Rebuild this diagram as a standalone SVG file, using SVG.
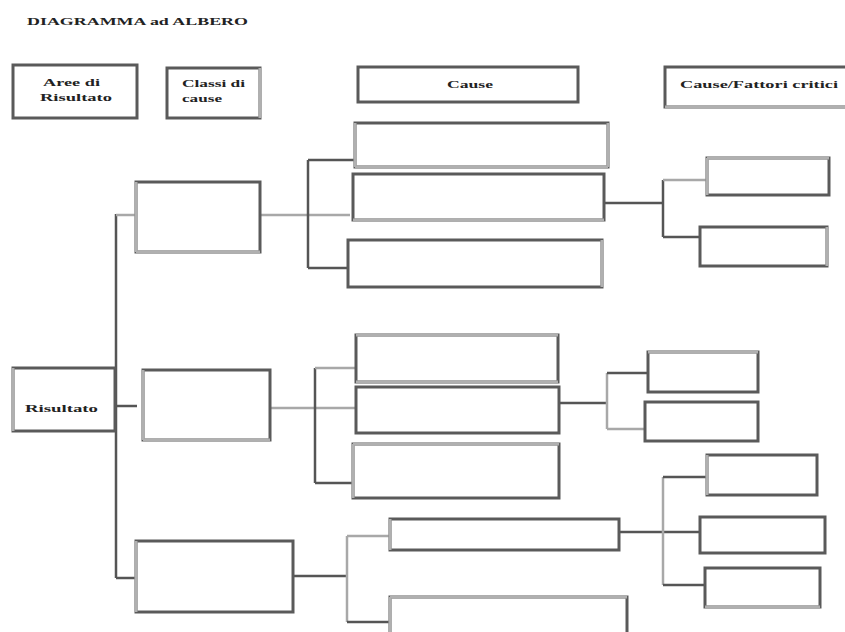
<svg xmlns="http://www.w3.org/2000/svg" width="845" height="632" viewBox="0 0 845 632">
<style>
.box{fill:#fff;stroke:#5a5a5a;stroke-width:3}
.lt{stroke:#b0b0b0;stroke-width:3;fill:none}
.ln{stroke:#555;stroke-width:2.5;fill:none}
.lg{stroke:#a8a8a8;stroke-width:2.5;fill:none}
.t{font-family:"Liberation Serif",serif;font-weight:bold;font-size:11px;fill:#222}
</style>
<rect width="845" height="632" fill="#fff"/>
<text class="t" x="27" y="25" font-size="13" textLength="221" lengthAdjust="spacingAndGlyphs">DIAGRAMMA ad ALBERO</text>

<g id="connectors">
  <path class="ln" d="M116 214V578"/>
  <path class="lg" d="M116 215H136"/>
  <path class="ln" d="M116 406H137"/>
  <path class="ln" d="M116 578H136"/>
  <path class="lg" d="M260 215H350"/>
  <path class="ln" d="M308 160V268"/>
  <path class="ln" d="M308 160H355"/>
  <path class="ln" d="M308 268H348"/>
  <path class="ln" d="M605 203H663"/>
  <path class="ln" d="M663 180V237"/>
  <path class="lg" d="M663 180H707"/>
  <path class="ln" d="M663 237H700"/>
  <path class="lg" d="M270 408H356"/>
  <path class="ln" d="M315 368V483"/>
  <path class="lg" d="M315 368H356"/>
  <path class="ln" d="M315 483H353"/>
  <path class="ln" d="M559 403H607"/>
  <path class="lg" d="M607 373V429"/>
  <path class="ln" d="M607 373H648"/>
  <path class="lg" d="M607 429H645"/>
  <path class="ln" d="M293 576H347"/>
  <path class="lg" d="M347 536V622"/>
  <path class="lg" d="M347 536H390"/>
  <path class="ln" d="M347 622H390"/>
  <path class="ln" d="M619 532H702"/>
  <path class="lg" d="M663 477V585"/>
  <path class="ln" d="M663 477H707"/>
  <path class="ln" d="M663 585H705"/>
</g>

<g id="h-aree"><rect class="box" x="13" y="65" width="124" height="53"/>
<text class="t" x="43" y="86" textLength="57" lengthAdjust="spacingAndGlyphs">Aree di</text>
<text class="t" x="40" y="101" textLength="72" lengthAdjust="spacingAndGlyphs">Risultato</text></g>
<g id="h-classi"><rect class="box" x="167" y="68" width="93" height="50"/><path class="lt" d="M260 68V118"/>
<text class="t" x="182" y="87" textLength="63" lengthAdjust="spacingAndGlyphs">Classi di</text>
<text class="t" x="182" y="102" textLength="40" lengthAdjust="spacingAndGlyphs">cause</text></g>
<g id="h-cause"><rect class="box" x="358" y="67" width="220" height="35"/>
<text class="t" x="447" y="88" textLength="46" lengthAdjust="spacingAndGlyphs">Cause</text></g>
<g id="h-fattori"><rect class="box" x="665" y="67" width="190" height="40"/><path class="lt" d="M665 107H845"/>
<text class="t" x="680" y="88" textLength="158" lengthAdjust="spacingAndGlyphs">Cause/Fattori critici</text></g>

<g id="risultato"><rect class="box" x="13" y="368" width="102" height="63"/><path class="lt" d="M13 368V431"/>
<text class="t" x="25" y="412" textLength="73" lengthAdjust="spacingAndGlyphs">Risultato</text></g>

<g id="a1"><rect class="box" x="136" y="182" width="124" height="70"/><path class="lt" d="M136 182V252M136 252H260"/></g>
<g id="c1"><rect class="box" x="355" y="123" width="253" height="44"/><path class="lt" d="M355 123V167M355 167H608M608 123V167"/></g>
<g id="c2"><rect class="box" x="353" y="174" width="251" height="46"/><path class="lt" d="M353 220H604"/></g>
<g id="c3"><rect class="box" x="348" y="240" width="254" height="47"/><path class="lt" d="M602 240V287"/></g>
<g id="f1"><rect class="box" x="707" y="158" width="122" height="37"/><path class="lt" d="M707 158H829M707 158V195"/></g>
<g id="f2"><rect class="box" x="700" y="227" width="127" height="39"/><path class="lt" d="M827 227V266"/></g>

<g id="b1"><rect class="box" x="143" y="370" width="127" height="70"/><path class="lt" d="M143 370V440M143 440H270"/></g>
<g id="d1"><rect class="box" x="356" y="335" width="202" height="47"/><path class="lt" d="M356 335H558M356 382H558"/></g>
<g id="d2"><rect class="box" x="356" y="387" width="203" height="46"/></g>
<g id="d3"><rect class="box" x="353" y="444" width="206" height="54"/><path class="lt" d="M353 444H559M353 444V498"/></g>
<g id="e1"><rect class="box" x="648" y="352" width="110" height="40"/><path class="lt" d="M648 352H758"/></g>
<g id="e2"><rect class="box" x="645" y="402" width="113" height="39"/></g>

<g id="g1"><rect class="box" x="136" y="541" width="157" height="71"/><path class="lt" d="M136 541V612"/></g>
<g id="h1"><rect class="box" x="390" y="519" width="229" height="31"/><path class="lt" d="M390 519V550"/></g>
<g id="h2"><rect class="box" x="390" y="597" width="237" height="40"/><path class="lt" d="M390 597H627M390 597V632"/></g>
<g id="i1"><rect class="box" x="707" y="455" width="110" height="40"/><path class="lt" d="M707 455V495"/></g>
<g id="i2"><rect class="box" x="700" y="517" width="125" height="36"/></g>
<g id="i3"><rect class="box" x="705" y="568" width="115" height="39"/><path class="lt" d="M705 607H820"/></g>
</svg>
